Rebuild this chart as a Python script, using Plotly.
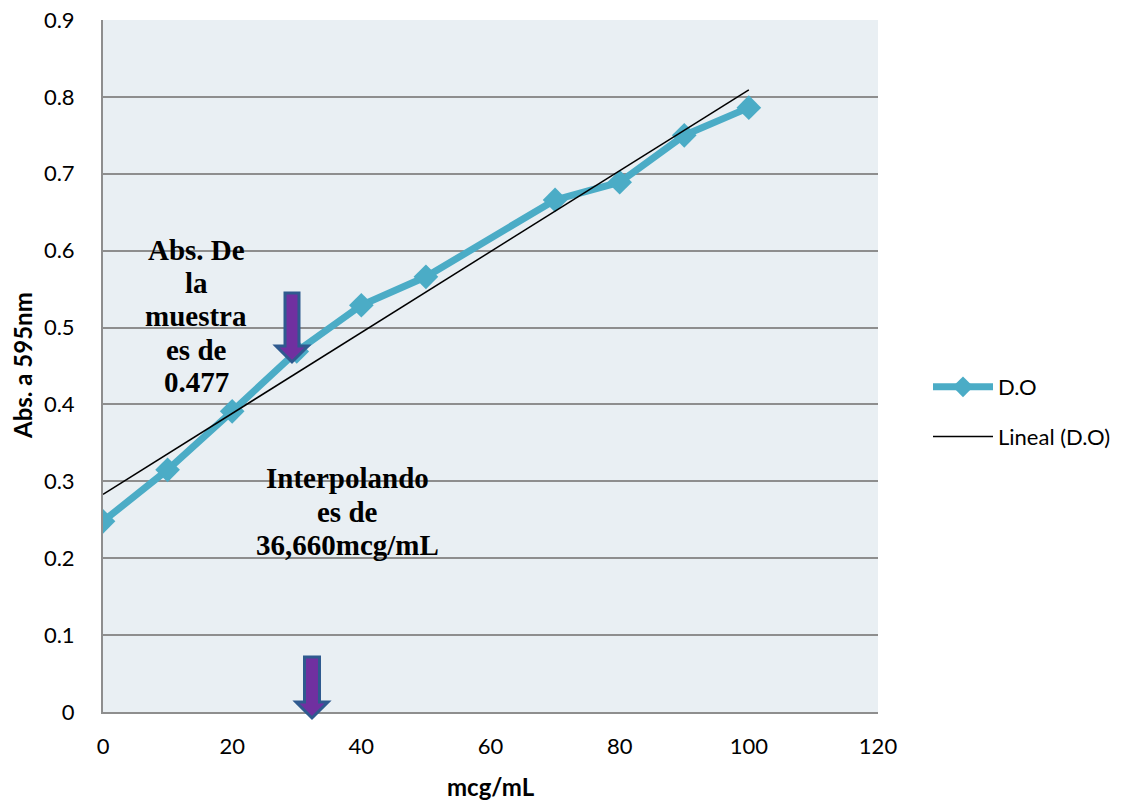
import numpy as np
import plotly.graph_objects as go

# Calibration data: concentration (mcg/mL) vs absorbance at 595 nm
conc = [0, 10, 20, 30, 40, 50, 70, 80, 90, 100]
absorb = [0.248, 0.315, 0.391, 0.469, 0.529, 0.566, 0.666, 0.689, 0.750, 0.786]

series_name = "D.O"
trend_name = "Lineal (D.O)"
x_title = "mcg/mL"
y_title = "Abs. a 595nm"
note_sample = ["Abs. De", "la", "muestra", "es de", "0.477"]
note_interp = ["Interpolando", "es de", "36,660mcg/mL"]

# Least-squares linear trendline over the calibration points
slope, intercept = np.polyfit(conc, absorb, 1)
trend_x = [min(conc), max(conc)]
trend_y = [intercept + slope * v for v in trend_x]

AQUA = "#4BACC6"
GRID = "#8E8E8E"
BG = "#E9EFF3"
TICK_FONT = dict(family="Lato", size=22, color="black")

# Plot-area geometry in pixels (used to place the free text and arrows)
W, H = 1124, 800
L, R, T, B = 103, 246, 20, 88
PW, PH = W - L - R, H - T - B


def px_x(p):
    return (p - L) / PW


def px_y(p):
    return (H - B - p) / PH


fig = go.Figure()

fig.add_trace(go.Scatter(
    x=conc, y=absorb, name=series_name, mode="lines+markers",
    line=dict(color=AQUA, width=7),
    marker=dict(symbol="diamond", size=19, color=AQUA),
    legendgroup="a",
))
fig.add_trace(go.Scatter(
    x=trend_x, y=trend_y, name=trend_name, mode="lines",
    line=dict(color="black", width=1.5),
    legendgroup="b",
))

SERIF = dict(family="Liberation Serif", size=29, color="black", weight="bold")

# Text blocks (bold serif), one annotation per line
annotations = []
for text, yp in zip(note_sample, [250, 283, 316, 350, 382]):
    annotations.append(dict(
        x=px_x(196), y=px_y(yp), xref="paper", yref="paper", text=text,
        showarrow=False, xanchor="center", yanchor="middle", font=SERIF,
    ))
for text, yp in zip(note_interp, [478, 512, 545]):
    annotations.append(dict(
        x=px_x(347), y=px_y(yp), xref="paper", yref="paper", text=text,
        showarrow=False, xanchor="center", yanchor="middle", font=SERIF,
    ))

# Axis titles
annotations.append(dict(
    x=px_x(491), y=px_y(786), xref="paper", yref="paper", text=x_title,
    showarrow=False, xanchor="center", yanchor="middle",
    font=dict(family="Lato", size=24, color="black", weight="bold"),
))
annotations.append(dict(
    x=px_x(22), y=px_y(366), xref="paper", yref="paper", text=y_title,
    showarrow=False, xanchor="center", yanchor="middle", textangle=-90,
    font=dict(family="Lato", size=24, color="black", weight="bold"),
))


def block_arrow(cx, top, head, tip, shaft_half, wing_half):
    pts = [
        (cx - shaft_half, top), (cx + shaft_half, top),
        (cx + shaft_half, head), (cx + wing_half, head),
        (cx, tip), (cx - wing_half, head), (cx - shaft_half, head),
    ]
    path = "M " + " L ".join(f"{px_x(a):.5f},{px_y(b):.5f}" for a, b in pts) + " Z"
    return dict(type="path", xref="paper", yref="paper", path=path,
                fillcolor="#7030A0", line=dict(color="#2F5A8F", width=3),
                layer="above")


shapes = [
    block_arrow(292, 293, 346, 362, 7, 16),
    block_arrow(312, 657, 702, 718, 7.5, 16),
]

fig.update_layout(
    width=W, height=H,
    margin=dict(l=L, r=R, t=T, b=B, autoexpand=False),
    paper_bgcolor="white",
    plot_bgcolor=BG,
    showlegend=True,
    legend=dict(
        x=px_x(928), y=px_y(412), xanchor="left", yanchor="middle",
        xref="paper", yref="paper",
        font=dict(family="Lato", size=22, color="black"),
        bgcolor="rgba(0,0,0,0)", itemwidth=60, tracegroupgap=18,
    ),
    annotations=annotations,
    shapes=shapes,
    xaxis=dict(
        range=[0, 120], dtick=20, tick0=0,
        showgrid=False, zeroline=False,
        showline=True, linecolor=GRID, linewidth=2,
        ticks="", ticklabelstandoff=14, automargin=False,
        tickfont=TICK_FONT,
    ),
    yaxis=dict(
        range=[0, 0.9], dtick=0.1, tick0=0,
        showgrid=True, gridcolor=GRID, gridwidth=2,
        zeroline=False,
        showline=True, linecolor=GRID, linewidth=2,
        ticks="", ticklabelstandoff=22, automargin=False,
        tickfont=TICK_FONT,
    ),
)

fig.write_html("out.html")
